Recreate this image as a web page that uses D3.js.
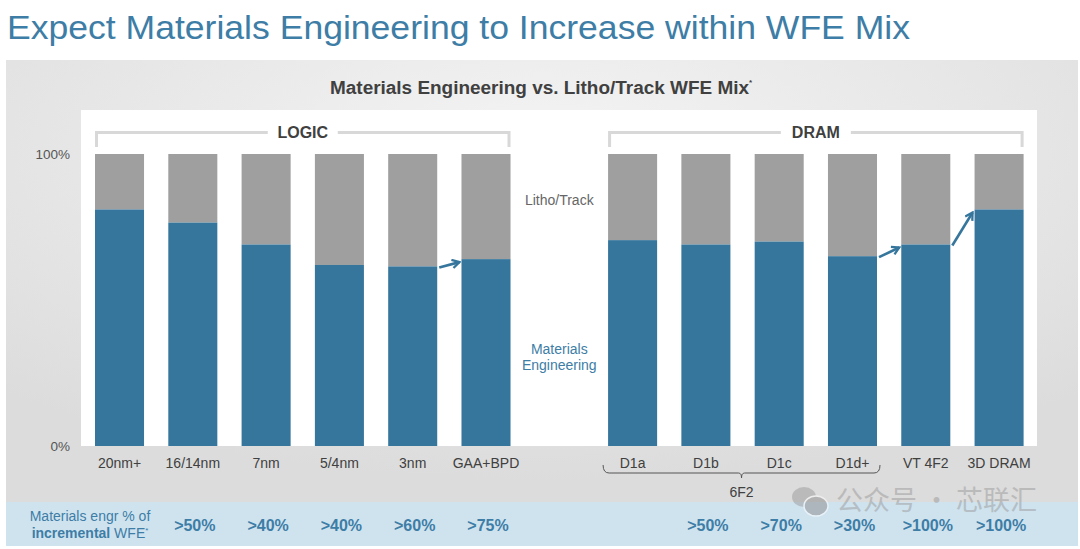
<!DOCTYPE html>
<html><head><meta charset="utf-8">
<script src="https://cdn.jsdelivr.net/npm/d3@7"></script>
<style>
html,body{margin:0;padding:0;background:#fff;}
svg{display:block;font-family:"Liberation Sans",Arial,sans-serif;}
</style></head>
<body><svg id="c" width="1080" height="549"></svg>
<script>
// ---- data ----
const logicCats = ["20nm+","16/14nm","7nm","5/4nm","3nm","GAA+BPD"];
const logicMat  = [81, 76.5, 69, 62, 61.5, 64];
const logicIncr = ["", ">50%", ">40%", ">40%", ">60%", ">75%"];
const dramCats  = ["D1a","D1b","D1c","D1d+","VT 4F2","3D DRAM"];
const dramMat   = [70.5, 69, 70, 65, 69, 81];
const dramIncr  = ["", ">50%", ">70%", ">30%", ">100%", ">100%"];
const arrows    = [["3nm","GAA+BPD"],["D1d+","VT 4F2"],["VT 4F2","3D DRAM"]];
const yTicks    = [0, 100];

const BLUE = "#36769c", GRAY = "#9f9f9f", TBLUE = "#3d7da6";
const svg = d3.select("#c");
const defs = svg.append("defs");
const rg = defs.append("radialGradient").attr("id","bg").attr("cx","50%").attr("cy","20%").attr("r","75%");
rg.append("stop").attr("offset","0%").attr("stop-color","#f4f4f4");
rg.append("stop").attr("offset","100%").attr("stop-color","#dcdcdc");
defs.append("marker").attr("id","ah").attr("viewBox","0 0 10 10").attr("refX",8).attr("refY",5)
  .attr("markerWidth",4).attr("markerHeight",4).attr("orient","auto").attr("markerUnits","strokeWidth")
  .append("path").attr("d","M1,1 L8,5 L1,9").attr("fill","none").attr("stroke",BLUE).attr("stroke-width",2.2);

// title
svg.append("text").attr("x",7).attr("y",39).attr("font-size",34).attr("fill",TBLUE)
  .attr("textLength",903).attr("lengthAdjust","spacingAndGlyphs")
  .text("Expect Materials Engineering to Increase within WFE Mix");

// panel
svg.append("rect").attr("x",6).attr("y",60).attr("width",1072).attr("height",442).attr("fill","url(#bg)");
svg.append("rect").attr("x",6).attr("y",502).attr("width",1072).attr("height",44).attr("fill","#cfe3ef");
svg.append("rect").attr("x",81).attr("y",110).attr("width",956).attr("height",336).attr("fill","#fff");

// subtitle
const st = svg.append("text").attr("x",330).attr("y",94)
  .attr("font-size",17.5).attr("font-weight","bold").attr("fill","#404040");
st.append("tspan").attr("textLength",419).attr("lengthAdjust","spacingAndGlyphs").text("Materials Engineering vs. Litho/Track WFE Mix");
st.append("tspan").attr("font-size",8).attr("dy",-9).text("*");

// scales
const all = [...logicCats, "__gap", ...dramCats];
const x = d3.scaleBand().domain(all).range([95, 1023.6]).paddingInner(0.331).paddingOuter(0);
const y = d3.scaleLinear().domain([0,100]).range([446,154]);

// y labels
svg.append("g").selectAll("text").data(yTicks).join("text")
  .attr("x",70).attr("y",d=>y(d)+5).attr("text-anchor","end").attr("font-size",13.5).attr("fill","#555")
  .text(d=>d+"%");

// bars
const rows = [...logicCats.map((c,i)=>({c,m:logicMat[i],inc:logicIncr[i]})),
              ...dramCats.map((c,i)=>({c,m:dramMat[i],inc:dramIncr[i]}))];
const g = svg.append("g");
g.selectAll(".lt").data(rows).join("rect")
  .attr("x",d=>x(d.c)).attr("width",x.bandwidth()).attr("y",y(100)).attr("height",d=>y(d.m)-y(100)).attr("fill",GRAY);
g.selectAll(".me").data(rows).join("rect").attr("class","me")
  .attr("x",d=>x(d.c)).attr("width",x.bandwidth()).attr("y",d=>y(d.m)).attr("height",d=>y(0)-y(d.m)).attr("fill",BLUE);

// category labels
svg.append("g").selectAll("text").data(rows).join("text")
  .attr("x",d=>x(d.c)+x.bandwidth()/2).attr("y",468).attr("text-anchor","middle")
  .attr("font-size",14).attr("fill","#404040").text(d=>d.c);

// incremental values
svg.append("g").selectAll("text").data(rows.filter(d=>d.inc)).join("text")
  .attr("x",d=>x(d.c)+x.bandwidth()/2+2).attr("y",531).attr("text-anchor","middle")
  .attr("font-size",16).attr("font-weight","bold").attr("fill",TBLUE).text(d=>d.inc);
const bl = svg.append("text").attr("x",90).attr("y",521).attr("text-anchor","middle").attr("font-size",14).attr("fill",TBLUE);
bl.append("tspan").attr("x",90).text("Materials engr % of");
const l2 = svg.append("text").attr("x",90).attr("y",538).attr("text-anchor","middle").attr("font-size",14).attr("fill",TBLUE);
l2.append("tspan").attr("font-weight","bold").text("incremental");
l2.append("tspan").text(" WFE");
l2.append("tspan").attr("font-size",8).attr("dy",-5).text("*");

// group brackets
function bracket(cats,label){
  const x0 = x(cats[0]), x1 = x(cats[cats.length-1])+x.bandwidth(), cx=(x0+x1)/2, yb=132.5;
  const gg = svg.append("g").attr("stroke","#d8d8d8").attr("stroke-width",3).attr("fill","none");
  gg.append("path").attr("d",`M${x0+1.5},147 V${yb} H${cx-35}`);
  gg.append("path").attr("d",`M${cx+35},${yb} H${x1-1.5} V147`);
  svg.append("text").attr("x",cx).attr("y",yb+5.5).attr("text-anchor","middle").attr("font-size",16)
    .attr("font-weight","bold").attr("fill","#404040").text(label);
}
bracket(logicCats,"LOGIC");
bracket(dramCats,"DRAM");

// side labels
const mid = x("__gap")+x.bandwidth()/2;
svg.append("text").attr("x",mid).attr("y",205).attr("text-anchor","middle").attr("font-size",14).attr("fill","#666").text("Litho/Track");
svg.append("text").attr("x",mid).attr("y",354).attr("text-anchor","middle").attr("font-size",14).attr("fill",TBLUE).text("Materials");
svg.append("text").attr("x",mid).attr("y",370).attr("text-anchor","middle").attr("font-size",14).attr("fill",TBLUE).text("Engineering");

// arrows
const mat = c => rows.find(r=>r.c===c).m;
svg.append("g").selectAll("line").data(arrows).join("line")
  .attr("x1",d=>x(d[0])+x.bandwidth()+2).attr("y1",d=>y(mat(d[0]))+1)
  .attr("x2",d=>x(d[1])-2).attr("y2",d=>y(mat(d[1]))+3)
  .attr("stroke",BLUE).attr("stroke-width",2.6).attr("marker-end","url(#ah)");

// 6F2 brace
const sub = dramCats.slice(0,4);
const bx0 = x(sub[0])-5, bx1 = x(sub[3])+x.bandwidth()+3, bcx = (bx0+bx1)/2;
svg.append("path").attr("d",`M${bx0},465 Q${bx0},473 ${bx0+6},473 H${bcx-3} Q${bcx},473 ${bcx},478 Q${bcx},473 ${bcx+3},473 H${bx1-6} Q${bx1},473 ${bx1},465`)
  .attr("fill","none").attr("stroke","#555").attr("stroke-width",1);
svg.append("text").attr("x",bcx).attr("y",497).attr("text-anchor","middle").attr("font-size",14).attr("fill","#404040").text("6F2");

// watermark
const wm = svg.append("g").attr("opacity",0.5);
wm.append("ellipse").attr("cx",804).attr("cy",497).attr("rx",12).attr("ry",10).attr("fill","#9a9a9a");
wm.append("ellipse").attr("cx",816).attr("cy",506).attr("rx",12).attr("ry",10).attr("fill","#8a8a8a").attr("stroke","#fff").attr("stroke-width",1.5);
wm.append("text").attr("x",836).attr("y",510).attr("font-size",27).attr("fill","#9a9a9a")
  .attr("font-family","Noto Sans CJK SC").text("公众号 · 芯联汇");
</script></body></html>
